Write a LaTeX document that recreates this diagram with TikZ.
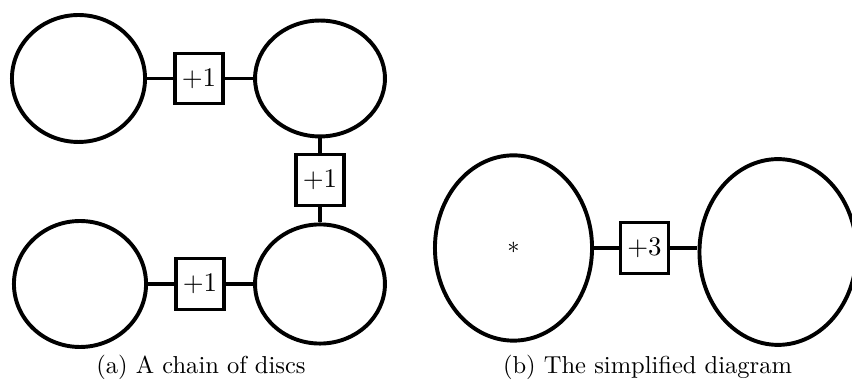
\documentclass[tikz,border=0pt]{standalone}
\usetikzlibrary{shapes.geometric}

\tikzset{
  disc/.style={draw, ellipse, line width=1.6pt, inner sep=0pt},
  gainbox/.style={draw, rectangle, line width=1.4pt, inner sep=0pt,
                  minimum width=19.6pt, minimum height=20.6pt,
                  font=\fontsize{10.95}{13}\selectfont},
  link/.style={line width=1.4pt},
  caption/.style={anchor=base, inner sep=0pt}
}

\begin{document}
\begin{tikzpicture}[x=0.408pt, y=-0.408pt]
  \useasboundingbox (0,0) rectangle (852,391);

  % (a) a chain of four discs joined by +1 boxes
  \node[disc, minimum width=54.3pt, minimum height=51.8pt] (A) at (78.5,78.5) {};
  \node[disc, minimum width=53.0pt, minimum height=47.3pt] (B) at (320,78.5) {};
  \node[disc, minimum width=53.9pt, minimum height=51.4pt] (C) at (80,284) {};
  \node[disc, minimum width=53.0pt, minimum height=48.6pt] (D) at (320,284) {};

  \node[gainbox] (g1) at (199,78.5) {$+1$};
  \node[gainbox] (g2) at (320,180) {$+1$};
  \node[gainbox] (g3) at (200,284) {$+1$};

  \draw[link] (A.east) -- (g1.west);
  \draw[link] (g1.east) -- (B.west);
  \draw[link] (B.south) -- (g2.north);
  \draw[link] (g2.south) -- (D.north);
  \draw[link] (C.east) -- (g3.west);
  \draw[link] (g3.east) -- (D.west);

  % (b) the simplified diagram
  \node[disc, minimum width=64.1pt, minimum height=75.6pt] (E) at (513.5,248) {$*$};
  \node[disc, minimum width=64.1pt, minimum height=75.8pt] (F) at (778,252) {};
  \node[gainbox] (g4) at (644.5,248) {$+3$};

  \draw[link] (E.east) -- (g4.west);
  \draw[link] (g4.east) -- (g4.east -| F.west);

  % sub-captions
  \node[caption] (capa) at (201,374) {(a)\ A chain of discs};
  \node[caption] (capb) at (647.5,374) {(b)\ The simplified diagram};
\end{tikzpicture}
\end{document}
